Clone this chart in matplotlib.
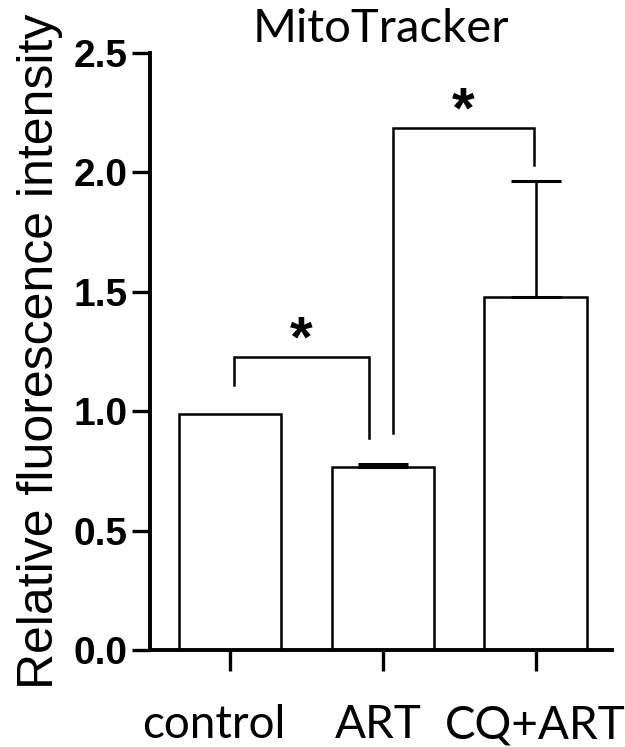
import matplotlib
matplotlib.use("Agg")
from matplotlib import pyplot as plt
import matplotlib.transforms as mtransforms

# values
groups = ["control", "ART", "CQ+ART"]
means = [0.99, 0.766, 1.478]
sem_upper = [0.0, 0.013, 0.486]

# significance brackets: x ends, y ends and top height (data units)
bracket_x_left = [0.03, 1.07]
bracket_x_right = [0.91, 1.99]
bracket_y_left = [1.11, 0.91]
bracket_y_right = [0.89, 2.03]
bracket_top = [1.227, 2.186]
bracket_labels = ["*", "*"]

title = "MitoTracker"
ylabel = "Relative fluorescence intensity"
yticks = [0.0, 0.5, 1.0, 1.5, 2.0, 2.5]

fig = plt.figure(figsize=(6.25, 7.47), dpi=100)
ax = fig.add_axes([0.24, 0.1298, 0.7392, 0.7992])

x = list(range(len(groups)))
ax.bar(x, means, width=0.667, color="white", edgecolor="black", linewidth=1.8, zorder=2)

for xi, m, e in zip(x, means, sem_upper):
    if e > 0:
        ax.errorbar([xi], [m], yerr=[[0], [e]], fmt="none", ecolor="black",
                    elinewidth=1.8, capsize=18, capthick=2.2, zorder=3)

for xl, xr, yl, yr, yt, lab in zip(bracket_x_left, bracket_x_right, bracket_y_left,
                                   bracket_y_right, bracket_top, bracket_labels):
    ax.plot([xl, xl, xr, xr], [yl, yt, yt, yr], color="black", lw=1.8,
            solid_joinstyle="miter", zorder=3)
    # asterisk glyph sits high in its box, so baseline on the bracket works
    ax.text((xl + xr) / 2, yt, lab, ha="center", va="baseline",
            fontsize=42, fontweight="bold", family="Liberation Sans")

ax.set_xlim(-0.52, 2.5)
ax.set_ylim(0, 2.5)
ax.set_yticks(yticks)
ax.set_yticklabels(["%.1f" % t for t in yticks], family="Liberation Sans",
                   fontweight="bold", fontsize=28)
ax.set_xticks(x)
ax.set_xticklabels(groups, family="Lato", fontsize=33)

for side in ["top", "right"]:
    ax.spines[side].set_visible(False)
ax.spines["left"].set_linewidth(2.8)
ax.spines["bottom"].set_linewidth(2.8)
ax.tick_params(axis="y", direction="out", length=13, width=2.4, pad=3)
ax.tick_params(axis="x", direction="out", length=15, width=2.4, pad=24)

# the control label sits a little left of its tick in the reference
offsets = [-16, -4, 0]
for lab, dx in zip(ax.get_xticklabels(), offsets):
    lab.set_transform(lab.get_transform() +
                      mtransforms.ScaledTranslation(dx / 100, 0, fig.dpi_scale_trans))

ax.set_ylabel(ylabel, family="Liberation Sans", fontsize=36, labelpad=8)
ax.set_title(title, family="Lato", fontsize=34, pad=8)

fig.savefig("out.png", dpi=100)
